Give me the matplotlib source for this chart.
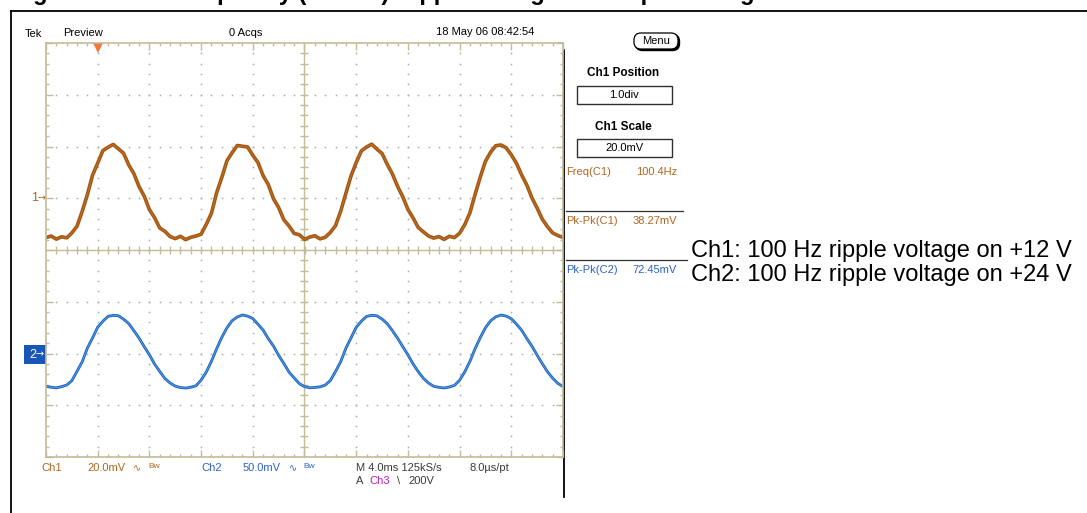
import numpy as np
import matplotlib.pyplot as plt
from matplotlib.patches import Rectangle, FancyBboxPatch

plt.rcParams['font.family'] = ['Liberation Sans', 'DejaVu Sans']

W, H = 1087, 513

# scope settings
ch1_pos_div, ch1_scale = 1.0, 20.0   # div, mV/div
ch2_pos_div, ch2_scale = -2.0, 50.0
trigger_ms = 4.0

time_ms = np.linspace(0, 40, 101)
ch1_mv = [
    -15.2, -14.6, -15.8, -14.9, -15.3, -13.4, -10.8, -5.1, 1.4, 8.9, 13.6, 18.4, 19.7,
    20.8, 19.1, 17.4, 12.9, 9.5, 4.5, 0.8, -4.4, -7.5, -11.5, -12.8, -14.8,
    -15.6, -14.7, -16.0, -15.1, -14.6, -13.9, -10.1, -5.8, 2.1, 8.0, 14.5, 17.6, 20.4,
    20.1, 19.8, 16.6, 13.8, 8.7, 5.3, -0.2, -3.6, -8.3, -10.7, -13.6, -14.1,
    -15.9, -15.0, -14.5, -15.7, -15.1, -13.2, -10.6, -5.0, 1.9, 8.6, 13.8, 18.3, 19.8,
    20.9, 19.0, 17.3, 13.1, 9.4, 4.6, 0.6, -4.3, -7.6, -11.3, -13.0, -14.6,
    -15.4, -14.8, -15.9, -14.7, -15.2, -13.5, -10.2, -5.6, 1.5, 8.2, 14.3, 17.8, 20.3,
    20.6, 19.5, 16.8, 13.5, 9.0, 5.1, 0.1, -3.8, -8.1, -11.0, -13.4, -14.4,
    -15.1]
ch2_mv = [
    -31.8, -32.6, -33.2, -32.0, -30.5, -26.3, -17.2, -8.1, 5.2, 15.0, 25.4, 31.1, 35.9,
    36.8, 36.5, 33.2, 28.9, 22.0, 14.9, 6.6, -1.2, -10.2, -17.3, -24.2, -28.5,
    -31.5, -32.9, -33.4, -32.6, -31.2, -25.7, -17.9, -7.5, 4.5, 15.6, 24.8, 31.7, 35.3,
    37.2, 36.1, 33.8, 28.3, 22.6, 14.3, 7.2, -1.8, -9.6, -17.9, -23.6, -29.1,
    -32.0, -33.1, -32.8, -32.2, -30.6, -26.1, -17.4, -7.9, 5.0, 15.1, 25.3, 31.2, 35.8,
    36.9, 36.4, 33.3, 28.8, 22.1, 14.8, 6.7, -1.3, -10.1, -17.5, -24.0, -28.6,
    -31.7, -32.7, -33.3, -32.4, -30.8, -25.9, -17.7, -7.6, 4.7, 15.4, 24.9, 31.6, 35.5,
    37.1, 36.2, 33.6, 28.4, 22.5, 14.5, 7.0, -1.6, -9.8, -17.7, -23.8, -28.9,
    -31.9]

meas_labels = ['Freq(C1)', 'Pk-Pk(C1)', 'Pk-Pk(C2)']
meas_values = ['100.4Hz', '38.27mV', '72.45mV']
notes = ['Ch1: 100 Hz ripple voltage on +12 V', 'Ch2: 100 Hz ripple voltage on +24 V']

BROWN = '#a3540f'
BROWN_TXT = '#b0661e'
BLUE = '#1c5cc0'
BLUE_TXT = '#2a64c8'
TAN = '#c4bb98'
GRAY = '#3a3a3a'
narrow = ['Liberation Sans Narrow', 'Liberation Sans', 'DejaVu Sans']

fig = plt.figure(figsize=(W / 100, H / 100), dpi=100)

# page overlay in pixel coords (y down)
ax0 = fig.add_axes([0, 0, 1, 1], zorder=0)
ax0.set_xlim(0, W)
ax0.set_ylim(H, 0)
ax0.axis('off')

def txt(x, y, s, **kw):
    kw.setdefault('va', 'center')
    kw.setdefault('family', narrow)
    kw.setdefault('size', 8)
    ax0.text(x, y, s, **kw)

# cut-off figure caption and frame
ax0.text(12, 0, 'Figure 9. Line Frequency (100 Hz) Ripple Voltage on Output Voltage',
         size=17, weight='bold', va='baseline', ha='left')
ax0.plot([10.5, W], [11, 11], color='black', lw=1.3)
ax0.plot([10.5, 10.5], [11, H], color='black', lw=1.3)
ax0.plot([564, 564], [50, 497], color='black', lw=1.3)

# header
txt(25, 34, 'Tek')
txt(63, 33, 'Preview')
txt(246, 33, '0 Acqs', ha='center')
txt(485, 32, '18 May 06 08:42:54', ha='center')

ax0.add_patch(FancyBboxPatch((635.5, 34.5), 44, 16, boxstyle='round,pad=0,rounding_size=7',
                             fc='black', ec='black', lw=1))
ax0.add_patch(FancyBboxPatch((634, 33), 44, 16, boxstyle='round,pad=0,rounding_size=7',
                             fc='white', ec='black', lw=0.9))
txt(656, 41, 'Menu', ha='center')

txt(623, 73, 'Ch1 Position', ha='center', weight='bold', size=8.5, family='Liberation Sans')
ax0.add_patch(Rectangle((577, 86), 95, 18, fc='white', ec='#303030', lw=1))
txt(624, 95, '1.0div', ha='center')
txt(623, 127, 'Ch1 Scale', ha='center', weight='bold', size=8.5, family='Liberation Sans')
ax0.add_patch(Rectangle((577, 139), 95, 18, fc='white', ec='#303030', lw=1))
txt(624, 148, '20.0mV', ha='center')

# measurements
meas_y = [172, 221, 270]
meas_col = [BROWN_TXT, BROWN_TXT, BLUE_TXT]
for lab, val, y, c in zip(meas_labels, meas_values, meas_y, meas_col):
    txt(566, y, lab, color=c)
    txt(677, y, val, color=c, ha='right')
ax0.plot([566, 683], [211, 211], color='#303030', lw=0.9)
ax0.plot([566, 687], [260, 260], color='#303030', lw=0.9)

for i, s in enumerate(notes):
    ax0.text(691, 251 + 24 * i, s, size=17, va='center', ha='left')

# footer
row1, row2 = 468, 481
txt(41, row1, 'Ch1', color=BROWN_TXT)
txt(87, row1, '20.0mV', color=BROWN_TXT)
txt(133, row1, '\u223f', color=BROWN_TXT, family=['DejaVu Sans'], size=7)
txt(148, row1 - 1, 'Bw', color=BROWN_TXT, size=6)
txt(201, row1, 'Ch2', color=BLUE_TXT)
txt(243, row1, '50.0mV', color=BLUE_TXT)
txt(289, row1, '\u223f', color=BLUE_TXT, family=['DejaVu Sans'], size=7)
txt(303, row1 - 1, 'Bw', color=BLUE_TXT, size=6)
txt(356, row1, 'M 4.0ms 125kS/s', color=GRAY)
txt(470, row1, '8.0\u00b5s/pt', color=GRAY)
txt(356, row2, 'A', color=GRAY)
txt(369, row2, 'Ch3', color='#c020c0')
txt(397, row2, '\\', color=GRAY)
txt(408, row2, '200V', color=GRAY)

# channel ground markers
txt(31, 198, '1', color=BROWN_TXT, size=9)
txt(37, 198, '\u2192', color=BROWN_TXT, size=7, family=['DejaVu Sans'])
ax0.add_patch(Rectangle((24, 345), 22, 19, fc='#1a56b8', ec='none'))
txt(29, 355, '2', color='white', size=9)
txt(36, 354, '\u2192', color='white', size=7, family=['DejaVu Sans'])

# scope screen
ax = fig.add_axes([46 / W, 1 - 457 / H, (563 - 46) / W, (457 - 43) / H], zorder=1)
ax.set_xlim(0, 40)
ax.set_ylim(-4, 4)
for sp in ax.spines.values():
    sp.set_color(TAN)
    sp.set_linewidth(1.2)
ax.set_xticks(np.arange(0, 41, 4))
ax.set_xticks(np.arange(0, 40.01, 0.8), minor=True)
ax.set_yticks(np.arange(-4, 5, 1))
ax.set_yticks(np.arange(-4, 4.01, 0.2), minor=True)
ax.tick_params(which='both', direction='in', top=True, right=True, color=TAN,
               labelbottom=False, labelleft=False)
ax.tick_params(which='major', length=5, width=1)
ax.tick_params(which='minor', length=2.5, width=1)

dot_y = np.arange(-3.8, 4, 0.2)
dot_x = np.arange(0.8, 40, 0.8)
for xv in range(4, 40, 4):
    if xv != 20:
        ax.plot([xv] * len(dot_y), dot_y, ls='none', marker='s', ms=1.1, mew=0, color='#aaaaaa')
for yv in range(-3, 4):
    if yv != 0:
        ax.plot(dot_x, [yv] * len(dot_x), ls='none', marker='s', ms=1.1, mew=0, color='#aaaaaa')
ax.axvline(20, color=TAN, lw=1)
ax.axhline(0, color=TAN, lw=1)
ax.plot(dot_x, np.zeros(len(dot_x)), ls='none', marker='|', ms=6, mew=1, color=TAN)
ax.plot(np.full(len(dot_y), 20.0), dot_y, ls='none', marker='_', ms=6, mew=1, color=TAN)

y1 = ch1_pos_div + np.array(ch1_mv) / ch1_scale
y2 = ch2_pos_div + np.array(ch2_mv) / ch2_scale
ax.plot(time_ms, y1, color=BROWN, lw=2.6)
ax.plot(time_ms, y1, color='#c98038', lw=0.7, alpha=0.7)
ax.plot(time_ms, y2, color=BLUE, lw=2.0)
ax.plot(time_ms, y2, color='#5cb2ea', lw=0.7, alpha=0.8)

ax.plot([trigger_ms], [3.9], marker='v', ms=7, color='#f07838', mew=0, clip_on=False)

fig.savefig('out.png', dpi=100)
